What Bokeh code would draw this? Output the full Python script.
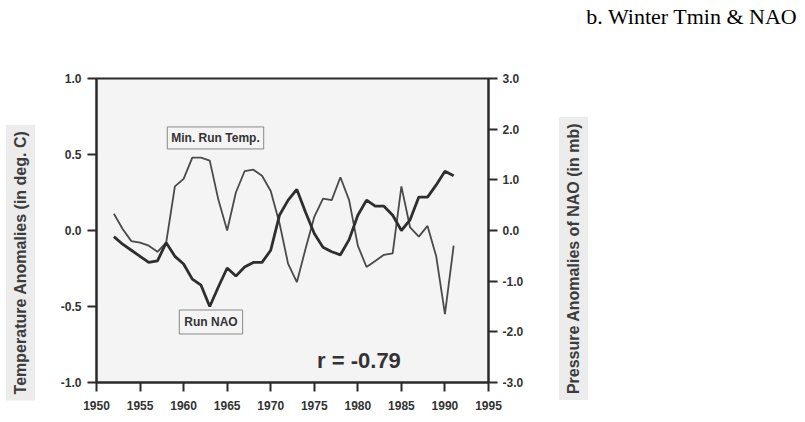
import math
from bokeh.plotting import figure
from bokeh.layouts import row
from bokeh.models import Plot, Range1d, LinearAxis, Label, FixedTicker, NumeralTickFormatter
from bokeh.embed import file_html
from bokeh.resources import INLINE

years = list(range(1952, 1992))
temp = [0.11, 0.01, -0.07, -0.08, -0.10, -0.14, -0.08, 0.29, 0.34, 0.48,
        0.48, 0.46, 0.20, 0.00, 0.25, 0.39, 0.40, 0.36, 0.26, 0.05,
        -0.22, -0.34, -0.12, 0.09, 0.21, 0.20, 0.35, 0.20, -0.10, -0.24,
        -0.20, -0.16, -0.15, 0.29, 0.02, -0.04, 0.03, -0.17, -0.55, -0.10]
nao = [-0.12, -0.27, -0.39, -0.51, -0.63, -0.60, -0.24, -0.51, -0.66, -0.96,
       -1.08, -1.50, -1.11, -0.74, -0.90, -0.72, -0.63, -0.63, -0.39, 0.30,
       0.60, 0.81, 0.36, -0.06, -0.33, -0.42, -0.48, -0.18, 0.30, 0.60,
       0.48, 0.48, 0.30, 0.00, 0.21, 0.66, 0.66, 0.90, 1.17, 1.08]
x_ticks = [1950, 1955, 1960, 1965, 1970, 1975, 1980, 1985, 1990, 1995]
left_ticks = [-1.0, -0.5, 0.0, 0.5, 1.0]
right_ticks = [-3.0, -2.0, -1.0, 0.0, 1.0, 2.0, 3.0]

title_text = "b. Winter Tmin & NAO"
left_title = "Temperature Anomalies (in deg. C)"
right_title = "Pressure Anomalies of NAO (in mb)"
temp_label = "Min. Run Temp."
nao_label = "Run NAO"
corr_text = "r = -0.79"

FONT = "Liberation Sans"
INK = "#2a2a2a"
H = 422
W_LEFT, W_MAIN, W_RIGHT = 40, 500, 260
HAS_FRAME_ALIGN = "frame_align" in Plot.properties()


def side_panel(x0, w):
    f = figure(width=w, height=H, output_backend="svg", toolbar_location=None,
               x_range=Range1d(x0, x0 + w), y_range=Range1d(H, 0),
               min_border=0, x_axis_type=None, y_axis_type=None)
    if HAS_FRAME_ALIGN:
        f.frame_align = False
    f.outline_line_color = None
    f.background_fill_color = "white"
    f.border_fill_color = "white"
    f.xgrid.visible = False
    f.ygrid.visible = False
    return f


# ---- main chart
p = figure(width=W_MAIN, height=H, output_backend="svg", toolbar_location=None,
           x_range=Range1d(1950, 1995), y_range=Range1d(-1.0, 1.0),
           min_border_left=56, min_border_right=52, min_border_top=78,
           min_border_bottom=40)
if HAS_FRAME_ALIGN:
    p.frame_align = False
p.extra_y_ranges = {"nao": Range1d(-3.0, 3.0)}

p.background_fill_color = "#f4f4f4"
p.border_fill_color = "white"
p.outline_line_color = INK
p.outline_line_width = 2
p.xgrid.visible = False
p.ygrid.visible = False

p.line(years, temp, line_color="#4a4a4a", line_width=1.8)
p.line(years, nao, y_range_name="nao", line_color="#2e2e2e", line_width=2.8)

right_axis = LinearAxis(y_range_name="nao")
p.add_layout(right_axis, "right")

for ax in [p.xaxis[0], p.yaxis[0], right_axis]:
    ax.axis_line_color = INK
    ax.axis_line_width = 2
    ax.major_tick_line_color = INK
    ax.major_tick_line_width = 2
    ax.major_tick_in = 0
    ax.major_tick_out = 9
    ax.minor_tick_line_color = None
    ax.major_label_text_font = FONT
    ax.major_label_text_font_style = "bold"
    ax.major_label_text_font_size = "12px"
    ax.major_label_text_color = "#333333"

p.xaxis[0].ticker = FixedTicker(ticks=x_ticks)
p.xaxis[0].major_label_standoff = 9
p.yaxis[0].ticker = FixedTicker(ticks=left_ticks)
p.yaxis[0].formatter = NumeralTickFormatter(format="0.0")
p.yaxis[0].major_label_standoff = 6
right_axis.ticker = FixedTicker(ticks=right_ticks)
right_axis.formatter = NumeralTickFormatter(format="0.0")
right_axis.major_label_standoff = 5

p.add_layout(Label(x=1963.66, y=0.609, text=temp_label, text_align="center",
                   text_baseline="middle", text_font=FONT,
                   text_font_style="bold", text_font_size="12px",
                   text_color="#333333", border_line_color="#888888",
                   border_line_width=1, background_fill_color="#f4f4f4",
                   padding=4))
p.add_layout(Label(x=1963.14, y=-0.602, text=nao_label, text_align="center",
                   text_baseline="middle", text_font=FONT,
                   text_font_style="bold", text_font_size="12px",
                   text_color="#333333", border_line_color="#888888",
                   border_line_width=1, background_fill_color="#f4f4f4",
                   padding=5))
p.add_layout(Label(x=1980.13, y=-0.852, text=corr_text, text_align="center",
                   text_baseline="middle", text_font=FONT,
                   text_font_style="bold", text_font_size="22px",
                   text_color="#333333"))

# ---- left strip: y-axis title (page pixel coordinates)
pl = side_panel(0, W_LEFT)
pl.add_layout(Label(x=20, y=262, text=left_title, angle=math.pi / 2,
                    text_align="center", text_baseline="middle",
                    text_font=FONT, text_font_style="bold",
                    text_font_size="16px", text_color="#3c3c3c",
                    background_fill_color="#ececec", padding=6))

# ---- right strip: secondary y-axis title and panel title
pr = side_panel(W_LEFT + W_MAIN, W_RIGHT)
pr.add_layout(Label(x=573, y=258, text=right_title, angle=math.pi / 2,
                    text_align="center", text_baseline="middle",
                    text_font=FONT, text_font_style="bold",
                    text_font_size="16px", text_color="#3c3c3c",
                    background_fill_color="#ececec", padding=6))
pr.add_layout(Label(x=797, y=16, text=title_text, text_align="right",
                    text_baseline="middle", text_font="Liberation Serif",
                    text_font_size="22px", text_color="black"))

layout = row(pl, p, pr)
open("out.html", "w").write(file_html(layout, INLINE))
